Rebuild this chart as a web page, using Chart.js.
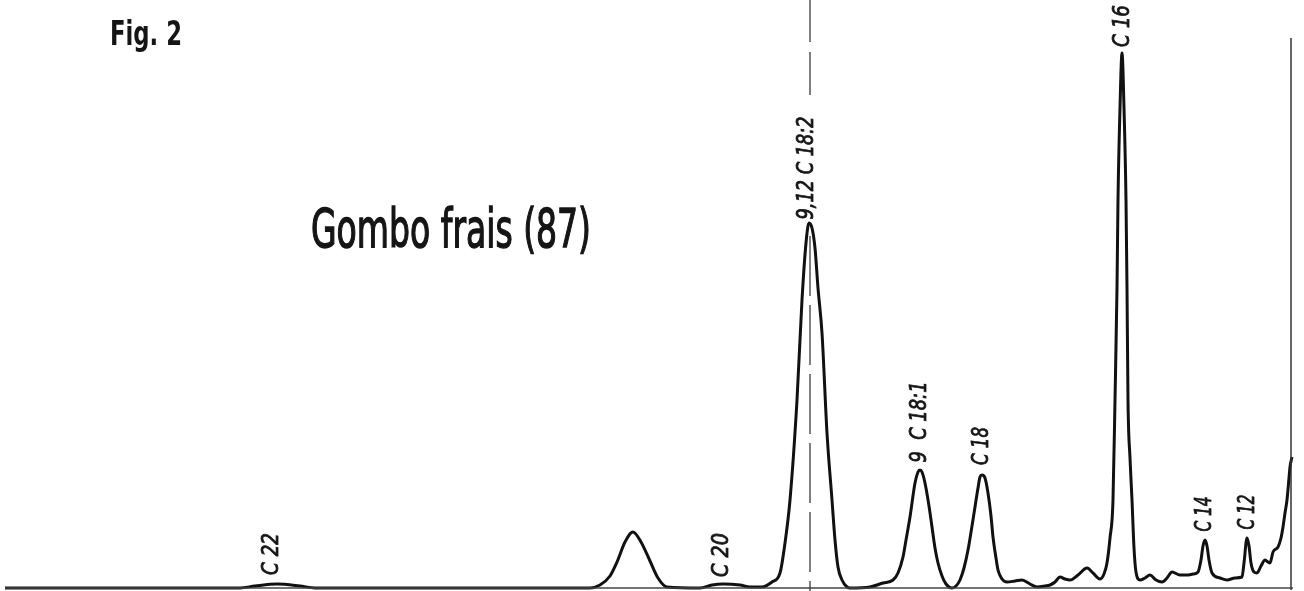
<!DOCTYPE html>
<html>
<head>
<meta charset="utf-8">
<script src="https://cdn.jsdelivr.net/npm/chart.js@4.4.1/dist/chart.umd.min.js"></script>
<style>
  html, body { margin: 0; padding: 0; background: #fff; }
  #wrap { width: 1304px; height: 591px; }
</style>
</head>
<body>
<div id="wrap"><canvas id="chromato" width="1304" height="591"></canvas></div>
<script>
// retention position and detector signal above baseline
const retention = [
  5, 240, 255, 277, 300, 315,
  590, 600, 610, 617, 625, 633, 641, 650, 658, 667,
  700, 712, 723, 740, 750, 762,
  772, 780, 785, 790, 797, 802, 806, 809, 812, 815, 818, 822, 827, 832, 835, 838, 842, 847,
  850, 870, 883, 893, 898, 903, 906, 910, 915, 918, 920, 922, 925, 929, 932, 935, 938, 942, 946, 952,
  956, 960, 964, 968, 972, 975, 978, 980, 982, 985, 988, 991, 993, 996, 998, 1002,
  1007, 1015, 1022, 1030, 1037, 1045, 1050, 1055, 1060, 1065, 1070, 1078, 1087, 1093, 1100,
  1104, 1107, 1110, 1113, 1115, 1117, 1118, 1120, 1122, 1124, 1126, 1127, 1128, 1130, 1132, 1134, 1136, 1140,
  1145, 1150, 1156, 1162, 1167, 1172, 1180, 1187, 1193, 1198, 1201, 1203, 1205, 1207, 1209, 1212, 1220, 1227, 1235,
  1242, 1244, 1247, 1249, 1251, 1254, 1257, 1261, 1265, 1268, 1270, 1273, 1278, 1281, 1283, 1285, 1287, 1289, 1290, 1292
];
const signal = [
  0, 0, 2, 4, 2, 0,
  0, 3, 12, 26, 46, 56, 46, 27, 10, 1,
  0, 3, 4, 3, 1, 1,
  6, 15, 45, 88, 188, 288, 345, 365, 360, 340, 300, 255, 155, 88, 48, 21, 8, 1,
  0, 1, 5, 8, 15, 31, 48, 71, 105, 116, 118, 116, 105, 82, 61, 40, 25, 12, 4, 0,
  2, 8, 20, 38, 62, 81, 100, 111, 113, 110, 95, 72, 51, 30, 18, 9,
  6, 7, 8, 4, 1, 2, 3, 6, 11, 9, 8, 13, 20, 15, 9,
  14, 25, 50, 88, 188, 300, 388, 480, 535, 480, 388, 300, 188, 130, 88, 40, 16, 8,
  10, 13, 8, 6, 10, 16, 13, 13, 14, 16, 28, 42, 48, 42, 28, 15, 10, 8, 10,
  11, 25, 50, 42, 25, 16, 15, 22, 28, 26, 25, 36, 41, 50, 61, 75, 88, 110, 121, 131
];

// peak names
const peakNames = ["C 22", "C 20", "9,12 C 18:2", "9  C 18:1", "C 18", "C 16", "C 14", "C 12"];

const title = "Fig. 2";
const sampleName = "Gombo frais (87)";

// label placement (data units: x along strip, y above baseline), and text length
const peakLabelX = [272, 722, 807, 920, 982, 1123, 1205, 1248];
const peakLabelY = [34, 33, 420, 166, 142, 562, 74, 76];
const peakLabelLen = [42, 44, 103, 81, 38, 42, 35, 35];

const trace = retention.map((x, i) => ({ x: x, y: signal[i] }));

const NARROW = "'Liberation Sans Narrow', 'DejaVu Sans Condensed', 'Roboto', sans-serif";

// draw text squeezed/stretched to a given width, optional outline to thicken
function fitText(ctx, text, width, thick) {
  const w = ctx.measureText(text).width;
  ctx.save();
  ctx.scale(width / w, 1);
  ctx.fillText(text, 0, 0);
  if (thick) {
    ctx.lineWidth = thick;
    ctx.strokeText(text, 0, 0);
  }
  ctx.restore();
}

const textPlugin = {
  id: "textPlugin",
  afterDatasetsDraw(chart) {
    const ctx = chart.ctx;
    const xs = chart.scales.x, ys = chart.scales.y;
    ctx.save();
    ctx.fillStyle = "#151515";
    ctx.strokeStyle = "#151515";
    ctx.textBaseline = "middle";
    ctx.textAlign = "left";
    ctx.font = "italic 23px " + NARROW;
    peakNames.forEach((name, i) => {
      const px = xs.getPixelForValue(peakLabelX[i]);
      const py = ys.getPixelForValue(peakLabelY[i]);
      ctx.save();
      ctx.translate(px, py);
      ctx.rotate(-Math.PI / 2);
      ctx.translate(-peakLabelLen[i] / 2, 0);
      fitText(ctx, name, peakLabelLen[i], 0.8);
      ctx.restore();
    });

    ctx.textBaseline = "alphabetic";
    ctx.font = "bold 34px " + NARROW;
    ctx.save();
    ctx.translate(110, 45);
    fitText(ctx, title, 72, 0);
    ctx.restore();

    ctx.font = "54px " + NARROW;
    ctx.save();
    ctx.translate(311, 247);
    fitText(ctx, sampleName, 280, 1.4);
    ctx.restore();
    ctx.restore();
  }
};

new Chart(document.getElementById("chromato"), {
  type: "line",
  data: {
    datasets: [
      {
        label: "baseline",
        data: [{ x: 5, y: 0 }, { x: 1293, y: 0 }],
        borderColor: "#444",
        borderWidth: 1.5,
        tension: 0,
        clip: false
      },
      {
        label: "marker",
        data: [{ x: 810, y: 591 }, { x: 810, y: 546 }, { x: 810, y: null },
               { x: 810, y: 536 }, { x: 810, y: 493 }],
        borderColor: "#555",
        borderWidth: 1.5,
        tension: 0,
        spanGaps: false,
        clip: false
      },
      {
        label: "marker-dash",
        data: [{ x: 810, y: 352 }, { x: 810, y: -3 }],
        borderColor: "#555",
        borderWidth: 1.5,
        borderDash: [60, 9],
        tension: 0,
        clip: false
      },
      {
        label: "end",
        data: [{ x: 1291, y: 550 }, { x: 1291, y: -2 }],
        borderColor: "#333",
        borderWidth: 1.5,
        tension: 0,
        clip: false
      },
      {
        label: "trace",
        data: trace,
        borderColor: "#111",
        borderWidth: 3,
        cubicInterpolationMode: "monotone",
        borderJoinStyle: "round",
        clip: false
      }
    ]
  },
  options: {
    responsive: false,
    animation: false,
    devicePixelRatio: 1,
    layout: { padding: 0 },
    elements: { point: { radius: 0 } },
    plugins: { legend: { display: false }, tooltip: { enabled: false } },
    scales: {
      x: { type: "linear", min: 0, max: 1304, display: false },
      y: { type: "linear", min: -3, max: 588, display: false }
    }
  },
  plugins: [textPlugin]
});
</script>
</body>
</html>
